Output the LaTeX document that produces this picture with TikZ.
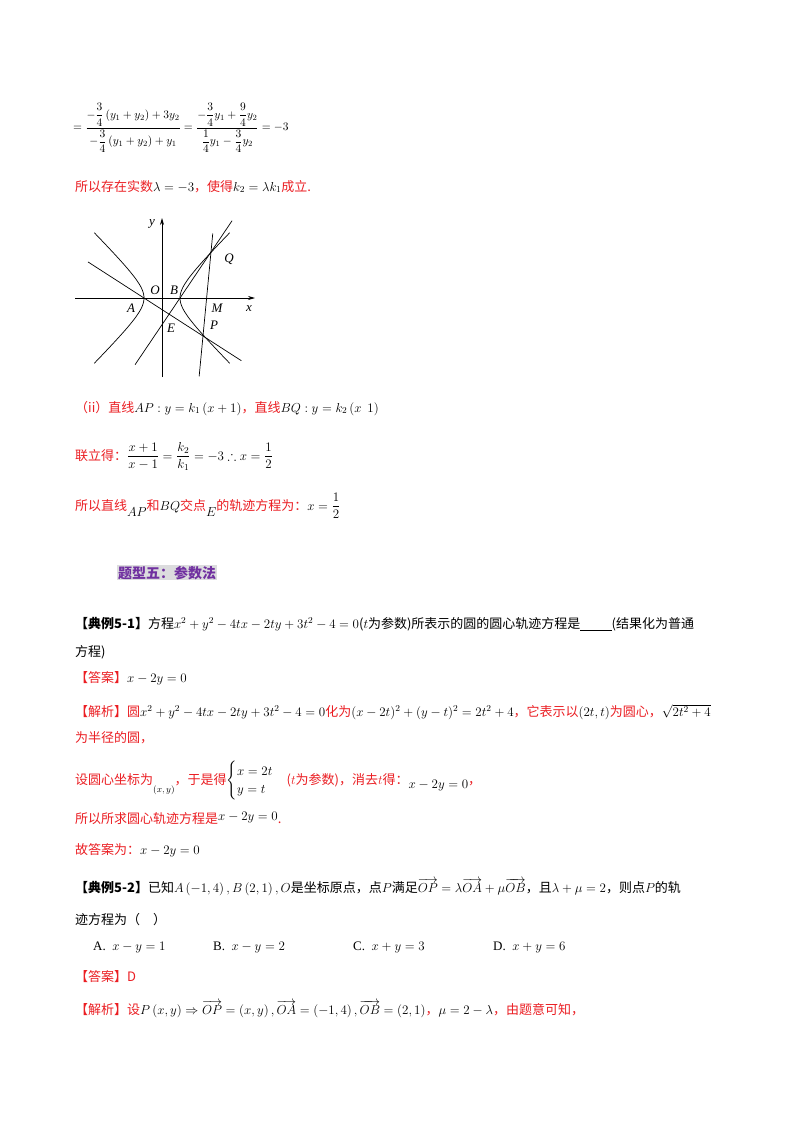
\documentclass[tikz,border=0pt]{standalone}
\usepackage{fix-cm}
\usepackage{amsmath,amssymb}
\usepackage[no-math]{fontspec}
\setmainfont{Noto Sans CJK SC}
\newfontfamily\serif{Liberation Serif}
\definecolor{rd}{RGB}{235,30,35}
\definecolor{pur}{RGB}{112,48,160}
\definecolor{hl}{RGB}{220,220,222}
\usetikzlibrary{arrows.meta,calc}
\tikzset{t/.style={anchor=base west,inner sep=0pt,font=\fontsize{13}{15}\selectfont},
 gl/.style={inner sep=1pt,font=\fontsize{13}{14}\selectfont\serif\itshape},
 ax/.style={line width=0.7pt,-{Stealth[length=7pt,width=4pt]}},
 cv/.style={line width=0.7pt}}
\newcommand{\R}[1]{\textcolor{rd}{#1}}
\begin{document}
\begin{tikzpicture}[x=1pt,y=-1pt]
\useasboundingbox[fill=white] (0,0) rectangle (800,1132);
% top equation
\node[t,anchor=west,font=\fontsize{11.5}{14}\selectfont] (eq1) at (73,128) {$\displaystyle =\frac{-\dfrac{3}{4}\left(y_1+y_2\right)+3y_2}{-\dfrac{3}{4}\left(y_1+y_2\right)+y_1}=\frac{-\dfrac{3}{4}y_1+\dfrac{9}{4}y_2}{\dfrac{1}{4}y_1-\dfrac{3}{4}y_2}=-3$};
\node[t] (l2) at (75,191) {\R{所以存在实数}$\lambda=-3$\R{，使得}$k_2=\lambda k_1$\R{成立.}};
% graph
\coordinate (O) at (162,298);
\coordinate (A) at (144,298);
\coordinate (B) at (180,298);
\coordinate (Q) at (211,252);
\coordinate (P) at (203,336);
\coordinate (E) at (163,325);
\coordinate (M) at (207,298);
\coordinate (xs) at (75,298); \coordinate (xe) at (255,298);
\coordinate (ys) at (162,377); \coordinate (ye) at (162,218);
\draw[ax] (xs) -- (xe);
\draw[ax] (ys) -- (ye);
\draw[cv] plot[domain=-2:2,samples=60,smooth] ({162+18*cosh(\x)},{298-18*sinh(\x)});
\draw[cv] plot[domain=-2:2,samples=60,smooth] ({162-18*cosh(\x)},{298-18*sinh(\x)});
\draw[cv] ($(A)!-0.95!(P)$) -- ($(A)!1.65!(P)$);
\draw[cv] ($(B)!-1.45!(Q)$) -- ($(B)!1.68!(Q)$);
\draw[cv] ($(Q)!-0.22!(P)$) -- ($(Q)!1.48!(P)$);
\node[gl] at (152,224) {y};
\node[gl] at (155,290) {O};
\node[gl] at (174,290) {B};
\node[gl] at (131,308) {A};
\node[gl] at (217,308) {M};
\node[gl] at (249,309) {x};
\node[gl] at (171,328) {E};
\node[gl] at (214,325) {P};
\node[gl] at (229,259) {Q};
% (ii)
\node[t] (l4) at (75,412) {\R{（ii）直线}$AP:y=k_1\left(x+1\right)$\R{，直线}$BQ:y=k_2\left(x\ \ 1\right)$};
\node[t] (l5) at (75,460) {\R{联立得：}$\displaystyle\frac{x+1}{x-1}=\frac{k_2}{k_1}=-3\therefore x=\frac{1}{2}$};
\node[t] (l6) at (75,510) {\R{所以直线}\raisebox{-6pt}{$AP$}\R{和}$BQ$\R{交点}\raisebox{-6pt}{$E$}\R{的轨迹方程为：}$\displaystyle x=\frac{1}{2}$};
% heading
\node[t,fill=hl,inner sep=1pt,font=\fontsize{14}{16}\selectfont\bfseries,text=pur] (h) at (117,578) {题型五：参数法};
% example 5-1
\node[t] (e1) at (75,628) {\textbf{【典例5-1】}方程$x^2+y^2-4tx-2ty+3t^2-4=0$($t$为参数)所表示的圆的圆心轨迹方程是\underline{\hspace{2.4em}}(结果化为普通};
\node[t] at (75,656) {方程)};
\node[t] at (75,682) {\R{【答案】}$x-2y=0$};
\node[t] at (75,716) {\R{【解析】圆}$x^2+y^2-4tx-2ty+3t^2-4=0$\R{化为}$(x-2t)^2+(y-t)^2=2t^2+4$\R{，它表示以}$(2t,t)$\R{为圆心，}$\sqrt{2t^2+4}$};
\node[t] at (75,742) {\R{为半径的圆，}};
\node[t] at (75,784) {\R{设圆心坐标为}\raisebox{-8pt}{\small$(x,y)$}\R{，于是得}$\begin{cases}x=2t\\y=t\end{cases}$\R{($t$为参数)，消去$t$得：}\raisebox{-4pt}{$x-2y=0$}\R{，}};
\node[t] at (75,823) {\R{所以所求圆心轨迹方程是}\raisebox{3pt}{$x-2y=0$}\R{.}};
\node[t] at (75,854) {\R{故答案为：}$x-2y=0$};
% example 5-2
\node[t] at (75,892) {\textbf{【典例5-2】}已知$A\left(-1,4\right),B\left(2,1\right),O$是坐标原点，点$P$满足$\overrightarrow{OP}=\lambda\overrightarrow{OA}+\mu\overrightarrow{OB}$，且$\lambda+\mu=2$，则点$P$的轨};
\node[t] at (75,924) {迹方程为（\quad）};
\node[t] at (93,950) {\serif A.\ \ $x-y=1$};
\node[t] at (213,950) {\serif B.\ \ $x-y=2$};
\node[t] at (353,950) {\serif C.\ \ $x+y=3$};
\node[t] at (493,950) {\serif D.\ \ $x+y=6$};
\node[t] at (75,981) {\R{【答案】D}};
\node[t] at (75,1014) {\R{【解析】设}$P\left(x,y\right)\Rightarrow\overrightarrow{OP}=\left(x,y\right),\overrightarrow{OA}=\left(-1,4\right),\overrightarrow{OB}=\left(2,1\right)$\R{，}$\mu=2-\lambda$\R{，由题意可知，}};
\end{tikzpicture}
\end{document}
